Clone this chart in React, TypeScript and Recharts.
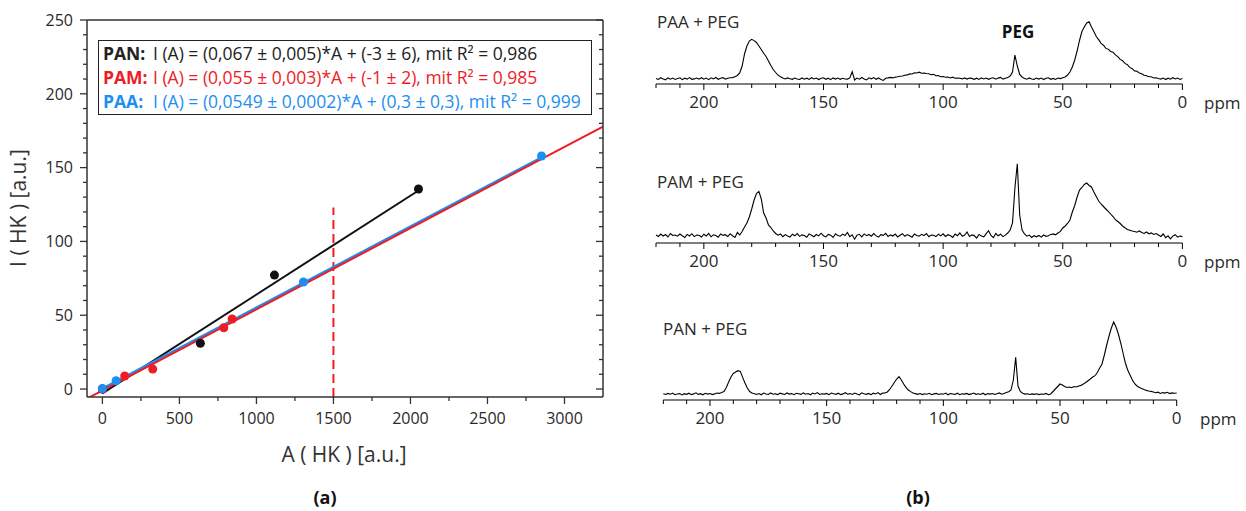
import React from "react";
import {
  ComposedChart,
  LineChart,
  Line,
  Scatter,
  XAxis,
  YAxis,
  ReferenceLine,
} from "recharts";

const FONT = '"Open Sans", "Noto Sans", sans-serif';
const INK = "#2a2a2a";
const AXIS = "#333";
const RED = "#ee1c25";
const BLUE = "#1e8ff0";

// ---- (a) calibration: peak area A(HK) vs intensity I(HK)
const panA = [0, 636, 1117, 2052];
const panI = [0, 31, 77.2, 135.5];
const pamA = [0, 145, 327, 788, 842];
const pamI = [0, 8.8, 13.5, 41.5, 47.4];
const paaA = [0, 89, 1305, 2851];
const paaI = [0.3, 5.6, 72.5, 157.9];

// linear fits (PAN, PAM, PAA) and the span each fit line is drawn over
const fitSlope = [0.067, 0.055, 0.0549];
const fitIntercept = [-3, -1, 0.3];
const fitFrom = [0, -100, 0];
const fitTo = [2060, 3250, 2850];

const markerA = [1500];
const markerTop = [123];

const aTicks = [0, 250, 500, 750, 1000, 1250, 1500, 1750, 2000, 2250, 2500, 2750, 3000];
const iTicks = [
  0, 10, 20, 30, 40, 50, 60, 70, 80, 90, 100, 110, 120, 130, 140, 150, 160, 170, 180, 190,
  200, 210, 220, 230, 240, 250,
];

const legendNames = ["PAN:", "PAM:", "PAA:"];
const legendEq = [
  "I (A) = (0,067 ± 0,005)*A + (-3 ± 6), mit R² = 0,986",
  "I (A) = (0,055 ± 0,003)*A + (-1 ± 2), mit R² = 0,985",
  "I (A) = (0,0549 ± 0,0002)*A + (0,3 ± 0,3), mit R² = 0,999",
];
const legendColors = ["#222", RED, BLUE];

// ---- (b) 13C spectra, one value per ppm from 220 down to 0
const ppmGrid = Array.from({ length: 221 }, (_, k) => 220 - k);
const ppmTicks = [220, 210, 200, 190, 180, 170, 160, 150, 140, 130, 120, 110, 100, 90, 80, 70, 60, 50, 40, 30, 20, 10, 0];

const paaPeg = [
  5.5, 4.6, 6.3, 5, 4.2, 6.1, 4.8, 5.9, 4.5, 5.6,
  6.2, 4.4, 5.8, 4.9, 6.4, 4.7, 5.1, 6, 4.9, 6.3,
  4.8, 5.9, 4.4, 6.2, 5.1, 6.5, 4.7, 5.8, 6.3, 4.9,
  5.7, 6.2, 6.4, 7.3, 8.5, 11, 18, 30, 38, 43,
  44.7, 43.4, 41.5, 38, 34.5, 30.7, 27.5, 23, 18.5, 14.5,
  11.5, 8.8, 7.2, 6, 5, 6.1, 5.2, 4.7, 5.9, 5,
  4.5, 6, 4.8, 5.8, 4.6, 6.3, 5.1, 5.9, 4.5, 5.7,
  6.2, 4.7, 5.8, 4.4, 6.1, 4.9, 5.9, 4.7, 5.7, 5,
  4.9, 6.1, 12.3, 4, 5.9, 4.8, 6.5, 5.1, 4.1, 6.2,
  5.2, 6.4, 4.7, 6, 4.6, 3.6, 5.7, 6.1, 6.6, 6.1,
  6.9, 7.2, 7.7, 8, 8.8, 9.1, 10.1, 10, 11.3, 11,
  11.8, 10.7, 10.9, 10.5, 10.3, 9.3, 9.6, 8.2, 8.5, 7.3,
  7.5, 6.7, 6.9, 6, 6.8, 5.7, 6, 5.8, 5.1, 6.1,
  4.9, 5.9, 5.6, 4.7, 5.8, 4.6, 6.1, 5, 5.9, 4.7,
  5.7, 6.2, 4.8, 5.9, 6.6, 4.9, 5.8, 6.4, 8, 12,
  29, 18, 9.5, 7, 5.4, 4.8, 6.1, 5, 4.6, 5.9,
  4.9, 5.9, 4.5, 5.7, 6.2, 4.7, 5.6, 4.5, 6, 5.4,
  6.2, 7, 9, 12, 17, 24, 33, 43.5, 52.5, 57,
  61, 62.3, 57, 52.5, 47.5, 44.4, 40.6, 38.8, 35.6, 34.8,
  32.6, 31.8, 29.1, 27.4, 24.6, 23.3, 20.6, 19.3, 16.6, 15.3,
  13.1, 12.8, 11.1, 10.3, 8.7, 8.3, 7.2, 7.3, 6, 6.2,
  5.5, 4.9, 6, 4.5, 5.8, 4.8, 6.3, 5, 6, 4.6,
  5.4,
];

const pamPeg = [
  8, 6.5, 9, 7, 8.5, 6, 9.5, 7.5, 8, 6.8,
  9, 7.2, 5.5, 8.6, 7, 9.3, 6.4, 8, 7.7, 6,
  8.8, 7, 9.6, 6.2, 8.2, 7.4, 5.8, 9, 7.6, 8.3,
  6.5, 9.2, 7.3, 5.6, 10.5, 8, 11.5, 16, 20, 26,
  34, 43, 49.5, 51.6, 44, 30, 25, 18, 15.5, 12,
  9.5, 7.8, 9, 6.3, 8.4, 7, 5.9, 8.8, 7.2, 9.4,
  6.6, 8.1, 7.5, 5.7, 9.1, 7.7, 6.3, 8.5, 7.1, 9.8,
  7.3, 6.1, 8.6, 7.8, 5.5, 9.2, 7.4, 6.8, 8.9, 7.5,
  10.5, 6.4, 8.2, 3.8, 7.9, 8.7, 6.2, 9.1, 7.3, 8.5,
  6.8, 9.4, 7.1, 5.9, 8.3, 7.6, 9.7, 6.5, 8.1, 7,
  8.9, 6.1, 7.8, 9.3, 6.7, 8.4, 7.2, 5.8, 9, 7.5,
  6.9, 8.7, 7.4, 9.5, 6.3, 8, 7.7, 6.4, 8.8, 7.1,
  9.2, 6.6, 8.3, 7.5, 5.6, 8.9, 7.3, 10.1, 6.8, 7.9,
  11, 6.5, 8.1, 7.4, 4.9, 8.6, 7, 6.2, 9.4, 12.3,
  7.6, 5.3, 9.5, 7.2, 8.8, 6.4, 7.9, 10, 13, 20,
  55, 79.3, 28, 13, 9, 6.8, 7.9, 5.5, 7.3, 6.2,
  7.5, 5.9, 8, 6.7, 7.2, 8.6, 9.1, 8.2, 10, 11.6,
  15, 17, 19.5, 23, 31, 37.5, 46, 53, 55.5, 58.5,
  60, 57.5, 56, 51, 46.5, 42, 39, 36.5, 34, 31.6,
  29, 26.5, 23.3, 21.5, 19.5, 17, 15.2, 13.5, 12.8, 12,
  11.5, 10.8, 12, 10.5, 9.6, 11, 9.2, 10.1, 8.5, 9.4,
  8, 6.5, 9, 5.4, 7.2, 4.2, 6.9, 8.3, 5.8, 7,
  6.4,
];

const panPeg = [
  6.2, 5.5, 6.6, 5.8, 6.9, 5.3, 6, 6.4, 5.1, 6.3,
  5.7, 6.8, 5.4, 6.1, 7.2, 5.6, 6.3, 5.2, 6.7, 5.9,
  6.5, 5.4, 6.1, 7, 6.6, 7.4, 8.5, 12.5, 18, 23,
  26.5, 28, 29.3, 28.6, 22.6, 17, 12, 8.5, 7, 6.2,
  5.6, 6.4, 5.2, 6.9, 6, 5.5, 7.1, 5.8, 6.3, 5.4,
  6.8, 6.1, 5.5, 7, 5.9, 6.4, 5.3, 6.7, 6.2, 5.6,
  7.1, 5.8, 6.5, 5.2, 6.9, 6, 7.4, 5.5, 6.3, 5.9,
  6.6, 5.3, 7, 6.2, 5.7, 6.8, 5.4, 6.1, 7.3, 5.8,
  6.4, 5.6, 6.9, 6, 5.1, 7.2, 6.3, 5.7, 6.6, 5.3,
  6.8, 6, 7.4, 5.5, 6.9, 7, 8, 10.5, 14, 17.5,
  21, 23.3, 20, 16, 12.6, 10, 8.4, 7, 6.4, 5.7,
  6.5, 5.4, 6.2, 5.8, 6.7, 5.3, 6.1, 6.6, 5.5, 6.3,
  5.8, 6.9, 5.2, 6.4, 6, 5.6, 6.8, 5.3, 6.2, 5.9,
  6.6, 5.4, 6.1, 7, 5.7, 6.3, 5.5, 6.8, 5.2, 6.4,
  5.9, 6.5, 5.6, 6.2, 7.1, 5.8, 6.6, 7.4, 8.2, 10,
  20, 42.6, 14, 8.5, 6.8, 5.9, 6.3, 5.5, 6.1, 5.6,
  6.2, 5.4, 6, 5.7, 6.6, 5.3, 6.1, 8.5, 11, 13.5,
  16, 15, 13.5, 12.5, 13, 12.3, 13.5, 13, 14, 14.6,
  16, 17.5, 19.3, 21, 23, 24.3, 27.5, 32, 36, 45,
  55, 64, 72, 78, 73, 66, 57, 47, 37, 30,
  25, 20, 16.3, 14, 12.5, 11.4, 10.5, 9.6, 9, 8.6,
  8, 7.2, 7.8, 6.6, 7.4, 6.9, 7.7, 6.4, 7.1, 6.8,
  7,
];

const spectrumNames = ["PAA + PEG", "PAM + PEG", "PAN + PEG"];

// ---------- helpers
function Txt({ x, y, children, size = 16, weight = 400, color = INK, anchor = "start", rotate = 0 }: any) {
  const tx = anchor === "middle" ? "-50%" : anchor === "end" ? "-100%" : "0";
  return (
    <div
      style={{
        position: "absolute",
        left: x,
        top: y,
        transform: `translate(${tx}, -50%) rotate(${rotate}deg)`,
        fontFamily: FONT,
        fontSize: size,
        fontWeight: weight,
        color,
        whiteSpace: "nowrap",
        lineHeight: 1,
      }}
    >
      {children}
    </div>
  );
}

const BottomTick = (p: any) => {
  const v = p.payload.value;
  const major = v % 500 === 0;
  return (
    <g>
      <line x1={p.x} x2={p.x} y1={p.y} y2={p.y + (major ? 7 : 4)} stroke={AXIS} strokeWidth={1.3} />
      {major && (
        <text x={p.x} y={p.y + 21} dy="0.36em" textAnchor="middle" fontSize={16} fill={INK} fontFamily={FONT}>
          {v}
        </text>
      )}
    </g>
  );
};

const LeftTick = (p: any) => {
  const v = p.payload.value;
  const major = v % 50 === 0;
  return (
    <g>
      <line x1={p.x} x2={p.x - (major ? 7 : 4)} y1={p.y} y2={p.y} stroke={AXIS} strokeWidth={1.3} />
      {major && (
        <text x={p.x - 14} y={p.y} dy="0.36em" textAnchor="end" fontSize={16} fill={INK} fontFamily={FONT}>
          {v}
        </text>
      )}
    </g>
  );
};

const TopTick = (p: any) => {
  const major = p.payload.value % 500 === 0;
  return <line x1={p.x} x2={p.x} y1={p.y} y2={p.y + (major ? 7 : 4)} stroke={AXIS} strokeWidth={1.3} />;
};

const RightTick = (p: any) => {
  const major = p.payload.value % 50 === 0;
  return <line x1={p.x} x2={p.x - (major ? 7 : 4)} y1={p.y} y2={p.y} stroke={AXIS} strokeWidth={1.3} />;
};

const SpecTick = (p: any) => {
  const v = p.payload.value;
  const major = v % 50 === 0;
  return (
    <g>
      <line x1={p.x} x2={p.x} y1={p.y} y2={p.y + (major ? 6 : 4)} stroke="#000" strokeWidth={1} />
      {major && (
        <text x={p.x} y={p.y + 18} dy="0.36em" textAnchor="middle" fontSize={17} fill={INK} fontFamily={FONT}>
          {v}
        </text>
      )}
    </g>
  );
};

function Calibration() {
  const fits = fitSlope.map((m, k) => [
    { a: fitFrom[k], i: m * fitFrom[k] + fitIntercept[k] },
    { a: fitTo[k], i: m * fitTo[k] + fitIntercept[k] },
  ]);
  const pan = panA.map((a, k) => ({ a, i: panI[k] }));
  const pam = pamA.map((a, k) => ({ a, i: pamI[k] }));
  const paa = paaA.map((a, k) => ({ a, i: paaI[k] }));
  const axisLine = { stroke: AXIS, strokeWidth: 1.5 };
  return (
    <div style={{ position: "absolute", left: 0, top: 0 }}>
      <ComposedChart width={640} height={511} margin={{ top: 10, right: 0, bottom: 0, left: 0 }}>
        <XAxis
          type="number"
          dataKey="a"
          domain={[-100, 3250]}
          allowDataOverflow
          ticks={aTicks}
          interval={0}
          tickSize={0}
          tickMargin={0}
          tickLine={false}
          axisLine={axisLine}
          height={114}
          tick={(p: any) => <BottomTick {...p} />}
        />
        <XAxis
          xAxisId="top"
          orientation="top"
          type="number"
          domain={[-100, 3250]}
          allowDataOverflow
          ticks={aTicks}
          interval={0}
          tickSize={0}
          tickMargin={0}
          tickLine={false}
          axisLine={axisLine}
          height={10}
          tick={(p: any) => <TopTick {...p} />}
        />
        <YAxis
          type="number"
          dataKey="i"
          domain={[-5.4, 250]}
          allowDataOverflow
          ticks={iTicks}
          interval={0}
          tickSize={0}
          tickMargin={0}
          tickLine={false}
          axisLine={axisLine}
          width={87}
          tick={(p: any) => <LeftTick {...p} />}
        />
        <YAxis
          yAxisId="right"
          orientation="right"
          type="number"
          domain={[-5.4, 250]}
          allowDataOverflow
          ticks={iTicks}
          interval={0}
          tickSize={0}
          tickMargin={0}
          tickLine={false}
          axisLine={axisLine}
          width={37}
          tick={(p: any) => <RightTick {...p} />}
        />
        <ReferenceLine
          segment={[
            { x: markerA[0], y: -5.4 },
            { x: markerA[0], y: markerTop[0] },
          ]}
          stroke={RED}
          strokeWidth={2}
          strokeDasharray="9 5"
        />
        <Line data={fits[0]} dataKey="i" stroke="#111" strokeWidth={2} dot={false} isAnimationActive={false} />
        <Line data={fits[2]} dataKey="i" stroke={BLUE} strokeWidth={2.4} dot={false} isAnimationActive={false} />
        <Line data={fits[1]} dataKey="i" stroke={RED} strokeWidth={2} dot={false} isAnimationActive={false} />
        <Scatter data={pan} dataKey="i" fill="#111" isAnimationActive={false} />
        <Scatter data={pam} dataKey="i" fill={RED} isAnimationActive={false} />
        <Scatter data={paa} dataKey="i" fill={BLUE} isAnimationActive={false} />
      </ComposedChart>
    </div>
  );
}

function Spectrum({ values, axisY, yMax, x0, x1 }: any) {
  const data = ppmGrid.map((p, k) => ({ ppm: p, v: values[k] }));
  return (
    <div style={{ position: "absolute", left: 640, top: axisY - yMax - 10 }}>
      <LineChart
        width={606}
        height={yMax + 50}
        data={data}
        margin={{ top: 10, right: 1246 - x1, bottom: 0, left: x0 - 640 }}
      >
        <XAxis
          type="number"
          dataKey="ppm"
          domain={[0, 220]}
          reversed
          ticks={ppmTicks}
          interval={0}
          tickSize={0}
          tickMargin={0}
          tickLine={false}
          axisLine={{ stroke: "#000", strokeWidth: 1.2 }}
          height={40}
          tick={(p: any) => <SpecTick {...p} />}
        />
        <YAxis hide domain={[0, yMax]} />
        <Line type="linear" dataKey="v" stroke="#000" strokeWidth={1.1} dot={false} isAnimationActive={false} />
      </LineChart>
    </div>
  );
}

export default function App() {
  return (
    <div
      style={{
        position: "absolute",
        left: 0,
        top: 0,
        width: 1246,
        height: 511,
        background: "#fff",
        overflow: "hidden",
        fontFamily: FONT,
      }}
    >
      <Calibration />
      <div
        style={{
          position: "absolute",
          left: 98,
          top: 40,
          width: 494,
          height: 75,
          boxSizing: "border-box",
          border: "1.5px solid #222",
          background: "#fff",
          paddingLeft: 4,
          fontSize: 17.5,
          lineHeight: "24px",
        }}
      >
        {legendNames.map((n, k) => (
          <div key={n} style={{ whiteSpace: "nowrap", color: legendColors[k] }}>
            <span style={{ display: "inline-block", width: 50, fontWeight: 700 }}>{n}</span>
            <span>{legendEq[k]}</span>
          </div>
        ))}
      </div>
      <Txt x={18} y={208} size={21} anchor="middle" rotate={-90} color="#333">
        I ( HK ) [a.u.]
      </Txt>
      <Txt x={344} y={454} size={21} anchor="middle" color="#333">
        A ( HK ) [a.u.]
      </Txt>
      <Txt x={325} y={497} size={18} weight={700} anchor="middle" color="#111">
        (a)
      </Txt>

      <Spectrum values={paaPeg} axisY={84} yMax={70} x0={656} x1={1182.4} />
      <Spectrum values={pamPeg} axisY={243.3} yMax={90} x0={656} x1={1182.4} />
      <Spectrum values={panPeg} axisY={400} yMax={90} x0={663.3} x1={1176.7} />

      <Txt x={657} y={21} size={17}>{spectrumNames[0]}</Txt>
      <Txt x={657} y={181} size={17}>{spectrumNames[1]}</Txt>
      <Txt x={663} y={328} size={17}>{spectrumNames[2]}</Txt>
      <Txt x={1018} y={31} size={17} weight={700} anchor="middle" color="#111">
        PEG
      </Txt>
      <Txt x={1204} y={102} size={17}>ppm</Txt>
      <Txt x={1204} y={261} size={17}>ppm</Txt>
      <Txt x={1200} y={418} size={17}>ppm</Txt>
      <Txt x={918} y={497} size={18} weight={700} anchor="middle" color="#111">
        (b)
      </Txt>
    </div>
  );
}
